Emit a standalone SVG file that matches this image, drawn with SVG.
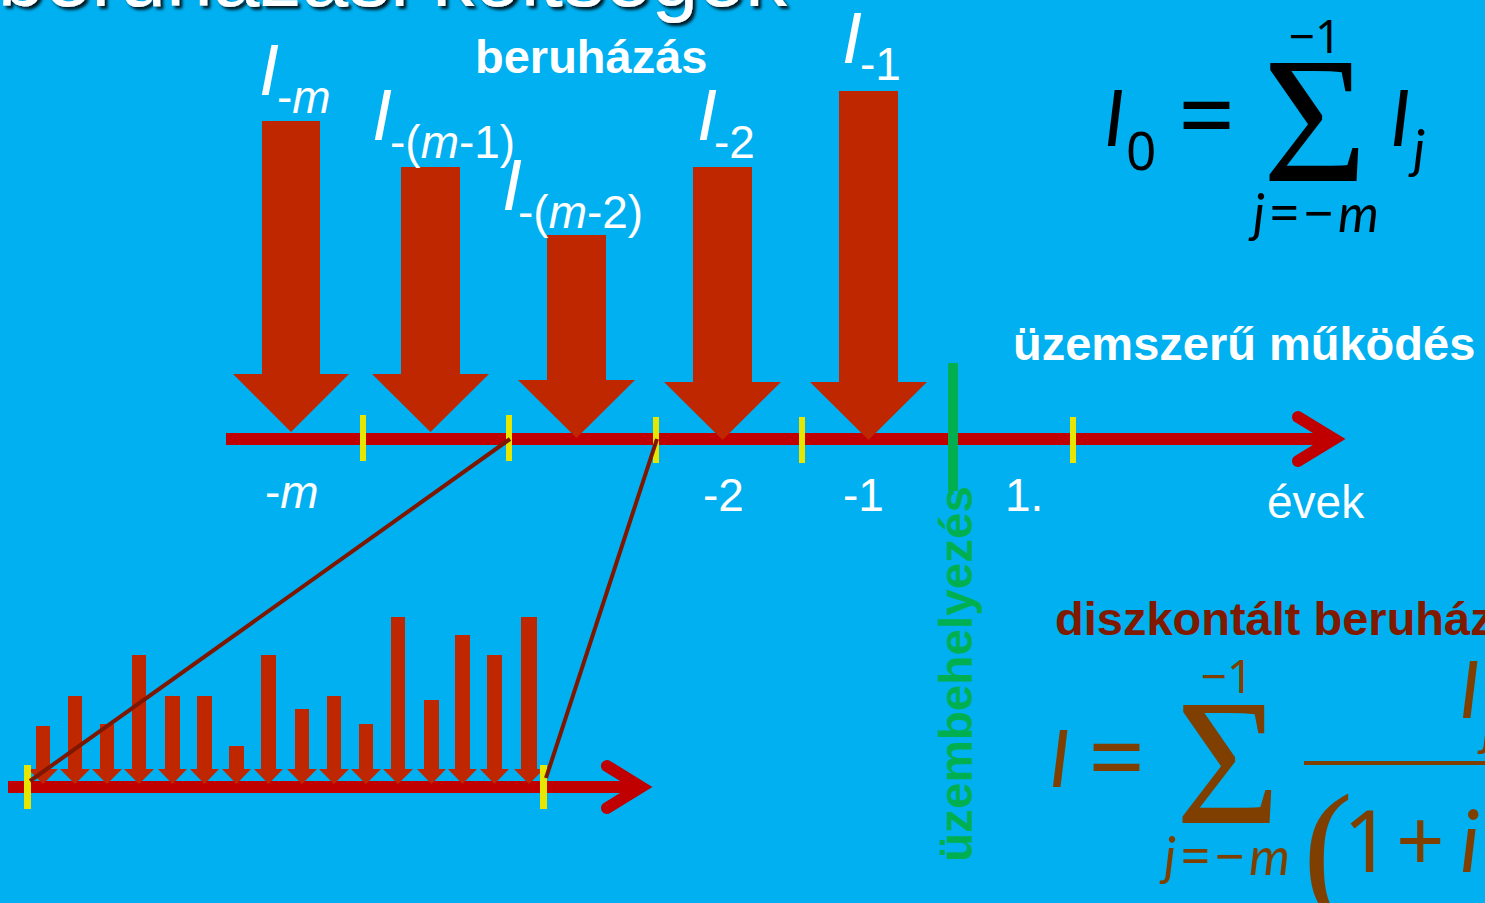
<svg xmlns="http://www.w3.org/2000/svg" width="1485" height="903" viewBox="0 0 1485 903">
<defs>
<filter id="sh" x="-5%" y="-50%" width="110%" height="200%">
<feDropShadow dx="3" dy="3" stdDeviation="1.5" flood-color="#000" flood-opacity="0.85"/>
</filter>
</defs>
<style>
.bg{fill:#00B0F0}
.arr{fill:#BE2700}
.axis{stroke:#C00000;stroke-width:12;fill:none}
.chev{stroke:#C00000;stroke-width:12;fill:none;stroke-linecap:round;stroke-linejoin:miter}
.tick{fill:#E6E600}
.zl{stroke:#7F1700;stroke-width:4;fill:none}
.w{fill:#fff;font-family:"Liberation Sans",Arial,sans-serif}
.wb{fill:#fff;font-family:"Liberation Sans",Arial,sans-serif;font-weight:bold;font-size:47px}
.it{font-style:italic}
.big{font-size:72px}
.sub{font-size:46px}
.f{font-family:"Noto Sans","DejaVu Sans",sans-serif}
.fi{font-family:Lato,"DejaVu Sans",sans-serif;font-style:italic}
.sig{font-family:"Liberation Serif","Times New Roman",serif}
.k{fill:#000}
.br{fill:#7F3F00}
</style>
<rect class="bg" x="0" y="0" width="1485" height="903"/>

<text id="title" class="w" x="787" y="6" font-size="84" text-anchor="end" filter="url(#sh)">beruházási költségek</text>

<g id="main-axis">
<line class="axis" x1="226" y1="439" x2="1330" y2="439"/>
<polyline class="chev" points="1298,417 1334,439 1298,461"/>
</g>

<g id="big-arrows">
<path id="arrow-m" class="arr" d="M262,121 H320 V374 H349 L291,432 L233,374 H262 Z"/>
<path id="arrow-m1" class="arr" d="M401,167 H460 V374 H489 L430.5,432 L372,374 H401 Z"/>
<path id="arrow-m2" class="arr" d="M547,235 H606 V380 H635 L576.5,438 L518,380 H547 Z"/>
<path id="arrow-2" class="arr" d="M693,167 H752 V382 H781 L722.5,440 L664,382 H693 Z"/>
<path id="arrow-1" class="arr" d="M839,91 H898 V382 H927 L868.5,440 L810,382 H839 Z"/>
</g>

<g id="ticks">
<rect class="tick" x="360" y="415" width="6" height="46"/>
<rect class="tick" x="506" y="415" width="6" height="46"/>
<rect class="tick" x="653" y="417" width="6" height="46"/>
<rect class="tick" x="799" y="417" width="6" height="46"/>
<rect class="tick" x="1070" y="417" width="6" height="46"/>
</g>

<g id="commissioning">
<rect x="948" y="363" width="10" height="128" fill="#00B050"/>
<text transform="translate(972,862) rotate(-90)" x="0" y="0" fill="#00B050" font-family="Liberation Sans,Arial,sans-serif" font-weight="bold" font-size="46" textLength="376" lengthAdjust="spacingAndGlyphs">üzembehelyezés</text>
</g>

<g id="axis-labels" class="w" font-size="46">
<text x="265" y="508">-<tspan class="it">m</tspan></text>
<text x="703" y="511">-2</text>
<text x="843" y="511">-1</text>
<text x="1005" y="511">1.</text>
<text x="1267" y="518">évek</text>
</g>

<g id="arrow-labels" class="w">
<text x="259" y="95"><tspan class="it big">I</tspan></text>
<text x="277" y="113" class="sub">-<tspan class="it">m</tspan></text>
<text x="372" y="140"><tspan class="it big">I</tspan></text>
<text x="390" y="158" class="sub">-(<tspan class="it">m</tspan>-1)</text>
<text x="502" y="210"><tspan class="it big">I</tspan></text>
<text x="518" y="228" class="sub">-(<tspan class="it">m</tspan>-2)</text>
<text x="697" y="140"><tspan class="it big">I</tspan></text>
<text x="714" y="158" class="sub">-2</text>
<text x="842" y="63"><tspan class="it big">I</tspan></text>
<text x="860" y="80" class="sub">-1</text>
</g>

<text id="lbl-beruhazas" class="wb" x="475" y="73">beruházás</text>
<text id="lbl-uzem" class="wb" x="1013" y="360">üzemszerű működés</text>
<text id="lbl-disz" x="1055" y="635" fill="#7F1900" font-family="Liberation Sans,Arial,sans-serif" font-weight="bold" font-size="47">diszkontált beruházás</text>

<g id="formula-1" class="k">
<text class="fi" x="1104" y="146" font-size="78">I</text>
<text class="f" x="1126" y="170" font-size="53">0</text>
<text class="f" x="1178" y="151" font-size="100">=</text>
<text class="sig" x="1315" y="181" font-size="180" text-anchor="middle">Σ</text>
<text class="f" x="1315" y="53" font-size="46" text-anchor="middle">−1</text>
<text class="fi" x="1390" y="146" font-size="78">I</text>
<text class="fi" x="1413" y="168" font-size="53">j</text>
<text class="fi" x="1316" y="232" font-size="52" text-anchor="middle" textLength="126">j<tspan class="f" font-style="normal">=−</tspan>m</text>
</g>

<g id="formula-2" class="br">
<text class="fi" x="1049" y="787" font-size="80">I</text>
<text class="f" x="1088" y="793" font-size="100">=</text>
<text class="sig" x="1228" y="823" font-size="180" text-anchor="middle">Σ</text>
<text class="f" x="1227" y="693" font-size="46" text-anchor="middle">−1</text>
<text class="fi" x="1227" y="875" font-size="52" text-anchor="middle" textLength="126">j<tspan class="f" font-style="normal">=−</tspan>m</text>
<rect x="1304" y="761" width="181" height="4"/>
<text class="fi" x="1459" y="718" font-size="80">I</text>
<text class="fi" x="1482" y="745" font-size="53">j</text>
<text class="sig" x="1303" y="898" font-size="150" font-weight="normal">(</text>
<text class="f" x="1343" y="872" font-size="85">1</text>
<text class="f" x="1396" y="872" font-size="85">+</text>
<text class="fi" x="1460" y="872" font-size="85">i</text>
</g>

<g id="detail-chart">
<line class="axis" x1="8" y1="787" x2="638" y2="787"/>
<polyline class="chev" points="607,766 641,787 607,808"/>
<g id="small-arrows" class="arr">
<path d="M36,726 H50 V769 H58 L43,784 L28,769 H36 Z"/>
<path d="M68,696 H82 V769 H90 L75,784 L60,769 H68 Z"/>
<path d="M100,724 H114 V769 H122 L107,784 L92,769 H100 Z"/>
<path d="M132,655 H146 V769 H154 L139,784 L124,769 H132 Z"/>
<path d="M165,696 H180 V769 H187 L172.5,784 L158,769 H165 Z"/>
<path d="M197,696 H212 V769 H219 L204.5,784 L190,769 H197 Z"/>
<path d="M229,746 H244 V769 H251 L236.5,784 L222,769 H229 Z"/>
<path d="M261,655 H276 V769 H283 L268.5,784 L254,769 H261 Z"/>
<path d="M295,709 H309 V769 H317 L302,784 L287,769 H295 Z"/>
<path d="M327,696 H341 V769 H349 L334,784 L319,769 H327 Z"/>
<path d="M359,724 H373 V769 H381 L366,784 L351,769 H359 Z"/>
<path d="M391,617 H405 V769 H413 L398,784 L383,769 H391 Z"/>
<path d="M424,700 H439 V769 H446 L431.5,784 L417,769 H424 Z"/>
<path d="M455,635 H470 V769 H477 L462.5,784 L448,769 H455 Z"/>
<path d="M487,655 H502 V769 H509 L494.5,784 L480,769 H487 Z"/>
<path d="M521,617 H537 V769 H544 L529,784 L514,769 H521 Z"/>
</g>
<rect class="tick" x="24" y="765" width="7" height="44"/>
<rect class="tick" x="540" y="765" width="7" height="44"/>
</g>

<g id="connectors">
<line class="zl" x1="510" y1="439" x2="30" y2="781"/>
<line class="zl" x1="657" y1="439" x2="546" y2="778"/>
</g>
</svg>
